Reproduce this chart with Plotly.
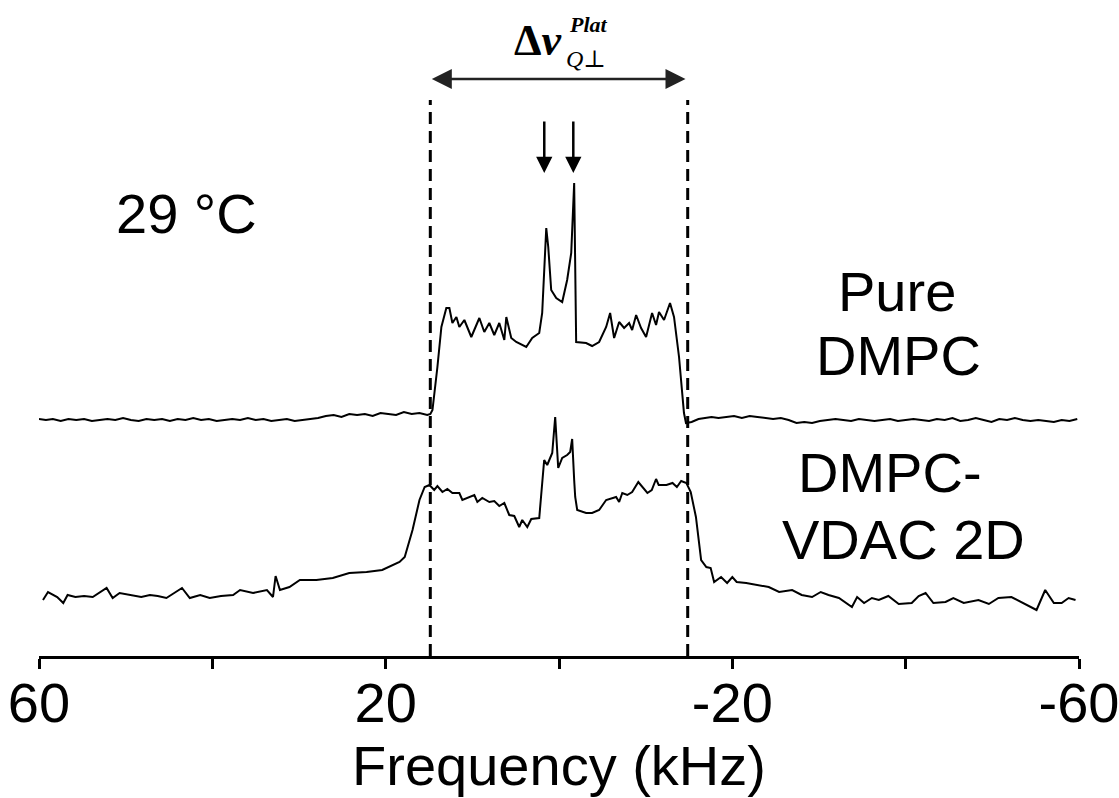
import plotly.graph_objects as go

# ---------------- data ----------------
# Pure DMPC spectrum: frequency (kHz) and intensity (a.u., relative to its baseline)
pure_freq = [60, 59.2, 58.4, 57.5, 56.6, 55.7, 54.8, 53.9, 53, 52.1, 51.2, 50.3, 49.4, 48.5, 47.6,
             46.7, 45.8, 44.9, 44, 43.1, 42.2, 41.3, 40.4, 39.5, 38.6, 37.7, 36.8, 35.9, 35, 34.1,
             33.2, 32.3, 31.4, 30.5, 29.6, 28.7, 27.8, 26.9, 26, 25.1, 24.2, 23.3, 22.4, 21.5, 20.6,
             19.7, 18.8, 17.9, 17, 16.1, 15.2, 14.84,
             14.6, 14.03, 13.57, 13.0, 12.65, 12.30, 11.84, 11.50, 10.92, 10.12, 9.19, 8.62, 8.04,
             7.47, 6.89, 6.31, 6.08, 5.51, 4.93, 3.78, 3.09, 2.28, 1.94, 1.47, 1.24, 0.90, 0.32,
             -0.37, -0.94, -1.41, -1.75, -1.98, -3.13, -3.82, -4.63, -5.44, -5.90, -6.36, -6.94,
             -7.51, -8.09, -8.44, -8.90, -9.47, -10.05, -10.74, -11.20, -11.54, -12.12, -12.81,
             -13.27, -13.85, -14.42, -14.65, -15.3, -16.1, -16.9, -17.6, -18.4,
             -19.3, -20.2, -21.1, -22, -22.9, -23.8, -24.7, -25.6, -26.5, -27.4, -28.3, -29.2,
             -30.1, -31, -31.9, -32.8, -33.7, -34.6, -35.5, -36.4, -37.3, -38.2, -39.1, -40,
             -40.9, -41.8, -42.7, -43.6, -44.5, -45.4, -46.3, -47.2, -48.1, -49, -49.9, -50.8,
             -51.7, -52.6, -53.5, -54.4, -55.3, -56.2, -57.1, -58, -58.9, -59.8]
pure_int = [1, 0, 1, -1, 1, 0, 1, -1, 0, 1, 0, 2, 0, -1, 1,
            0, 1, -1, 1, 0, 2, 0, 1, -1, 0, 1, 0, 2, 0, 1,
            -1, 0, 1, -1, 0, 1, 2, 4, 5, 3, 6, 5, 6, 4, 7,
            6, 5, 8, 6, 7, 5, 6,
            10, 53, 93, 112, 112, 97, 103, 93, 100, 83, 102, 88, 97,
            85, 97, 80, 103, 82, 78, 73, 82, 87, 107, 192, 173, 130, 122,
            118, 140, 167, 237, 78, 77, 74, 78, 93, 107, 82, 98,
            92, 97, 90, 105, 92, 83, 107, 95, 108, 100, 117,
            103, 63, 7, -3, -2, 1, 2, 3, 2,
            3, 4, 2, 4, 3, 2, 1, 2, 0, -3, -2, -3,
            -1, 0, 1, 0, -1, 1, 0, -1, 0, 1, -1, 0,
            1, 0, -1, 1, 0, 2, -1, 0, 2, 0, -2, 1,
            0, 2, 0, -1, 0, -1, -2, 0, -1, 1]

# DMPC-VDAC 2D spectrum
vdac_freq = [59.54, 58.96, 57.9, 57.2, 56.7, 55.8, 54.8, 53.8, 52.2, 51.5, 50.7, 49.2, 48.2, 47.2,
             46.3, 45.3, 43.5, 42.6, 41.4, 40.3, 39.0, 37.6, 36.8, 35.3, 33.7, 33.0, 32.7, 32.2,
             31.1, 29.9, 28.0, 26.1, 24.2, 22.2, 20.4, 18.4, 17.8, 16.9, 16.1, 15.5, 14.95, 14.4,
             14.03, 13.45, 12.88, 12.30, 11.5, 11.15, 10.57, 9.77, 9.42, 8.85, 8.04, 7.47, 6.89,
             6.31, 5.74, 5.16, 4.59, 4.24, 3.66, 3.2, 2.28, 1.94, 1.71, 1.36, 0.78, 0.44, 0.32,
             0.09, -0.37, -0.94, -1.29, -1.52, -1.75, -1.87, -2.1, -3.13, -3.82, -4.63, -5.44,
             -6.59, -6.94, -7.3, -7.88, -8.44, -9.15, -9.6, -10.2, -10.7, -11.2, -11.5, -12.4,
             -13.1, -13.6, -14.1, -14.7, -15.2, -15.8, -16.4, -17.0, -17.5, -17.9, -18.7, -19.4,
             -20.0, -20.5, -21.6, -23.1, -24.2, -25.4, -26.9, -28.0, -29.2, -30.2, -31.1, -32.3,
             -33.8, -34.4, -35.2, -36.1, -36.9, -38.0, -39.2, -40.7, -41.5, -42.3, -43.2, -44.6,
             -45.5, -46.7, -48.4, -49.6, -50.7, -52.2, -53.6, -55.1, -56.1, -57.1, -58.0, -58.8,
             -59.6]
vdac_int = [-3, 5, 0, -6, 2, 0, 1, 0, 9, -1, 4, 2, 0, 2,
            1, -1, 9, -1, 2, -1, 1, 2, 7, 4, 7, 0, 21, 7,
            10, 17, 17, 19, 24, 25, 27, 35, 40, 67, 97, 110, 112, 107,
            111, 105, 108, 104, 104, 97, 99, 102, 95, 99, 95, 96, 91,
            94, 82, 81, 70, 77, 70, 78, 79, 117, 137, 132, 144, 180, 164,
            129, 139, 142, 145, 158, 117, 100, 87, 84, 84, 87, 97,
            100, 95, 104, 102, 105, 115, 110, 104, 107, 118, 112, 112,
            114, 110, 116, 114, 105, 80, 37, 30, 29, 15, 20, 14,
            20, 15, 14, 12, 10, 5, 7, 2, 0, 5, 2, -1,
            -10, 0, -6, -1, -3, 1, -7, -6, 1, 4, -6, -5,
            -1, -6, -3, -7, -1, 0, -6, -13, 7, -6, -6, -1,
            -3]

pure_offset = 236    # vertical stacking offset of the Pure DMPC trace
vdac_offset = 59     # vertical stacking offset of the DMPC-VDAC 2D trace

splitting_half = 14.85          # half of the plateau quadrupolar splitting (kHz)
peak_freqs = [1.7, -1.65]       # arrowed central peaks (kHz)

tick_vals = [60, 40, 20, 0, -20, -40, -60]
tick_text = ["60", "", "20", "", "-20", "", "-60"]

# ---------------- figure ----------------
fig = go.Figure()
fig.add_trace(go.Scatter(x=pure_freq, y=[v + pure_offset for v in pure_int], mode="lines",
                         line=dict(color="black", width=2), showlegend=False, hoverinfo="skip"))
fig.add_trace(go.Scatter(x=vdac_freq, y=[v + vdac_offset for v in vdac_int], mode="lines",
                         line=dict(color="black", width=2), showlegend=False, hoverinfo="skip"))

# dashed guide lines
for xv in (splitting_half, -splitting_half):
    fig.add_shape(type="line", xref="x", yref="y", x0=xv, x1=xv, y0=0, y1=556,
                  line=dict(color="black", width=3, dash="12px,7px"))

annotations = []
# double-headed arrow
annotations.append(dict(x=-splitting_half + 0.25, y=577, ax=splitting_half, ay=577,
                        xref="x", yref="y", axref="x", ayref="y", text="", showarrow=True,
                        arrowhead=2, startarrowhead=2, arrowside="end+start",
                        arrowsize=1.6, startarrowsize=1.6, arrowwidth=2.5, arrowcolor="#222"))
# small arrows to central peaks
for pf in peak_freqs:
    annotations.append(dict(x=pf, y=483, xref="x", yref="y", ax=0, ay=-53, text="",
                            showarrow=True, arrowhead=2, arrowsize=1.3, arrowwidth=2.5,
                            arrowcolor="black"))

sans = "Liberation Sans, Arial, Helvetica, sans-serif"
serif = "Liberation Serif, DejaVu Serif, Times New Roman, serif"

def px2paper(px, py):
    return (px - 39) / 1042.0, (656 - py) / 656.0

def txt(s, px, py, size, family=sans, xanchor="center"):
    xp, yp = px2paper(px, py)
    return dict(x=xp, y=yp, xref="paper", yref="paper", text=s, showarrow=False,
                xanchor=xanchor, yanchor="middle", borderpad=0,
                font=dict(size=size, family=family, color="black"))

annotations += [
    txt("29 °C", 187, 213, 56),
    txt("Pure", 899, 292, 56),
    txt("DMPC", 900, 355, 56),
    txt("DMPC-", 892, 472, 56),
    txt("VDAC 2D", 905, 539, 56),
    txt("<b>Δ<i>ν</i></b>", 564, 40, 44, serif, "right"),
    txt("<b><i>Plat</i></b>", 569, 25, 22, serif, "left"),
    txt("<i>Q⊥</i>", 566, 59, 24, serif, "left"),
]

fig.update_layout(
    width=1119, height=798,
    margin=dict(l=39, r=38, t=0, b=142),
    paper_bgcolor="white", plot_bgcolor="white",
    annotations=annotations,
    xaxis=dict(range=[60, -60], tickvals=tick_vals, ticktext=tick_text,
               showline=True, linecolor="black", linewidth=3,
               ticks="outside", ticklen=10, tickwidth=3, tickcolor="black",
               showgrid=False, zeroline=False, ticklabeloverflow="allow",
               ticklabelstandoff=-14,
               tickfont=dict(family=sans, size=56, color="black"),
               title=dict(text="Frequency (kHz)", font=dict(family=sans, size=56, color="black"),
                          standoff=4)),
    yaxis=dict(range=[0, 656], visible=False, showgrid=False, zeroline=False),
)

fig.write_html("out.html")
